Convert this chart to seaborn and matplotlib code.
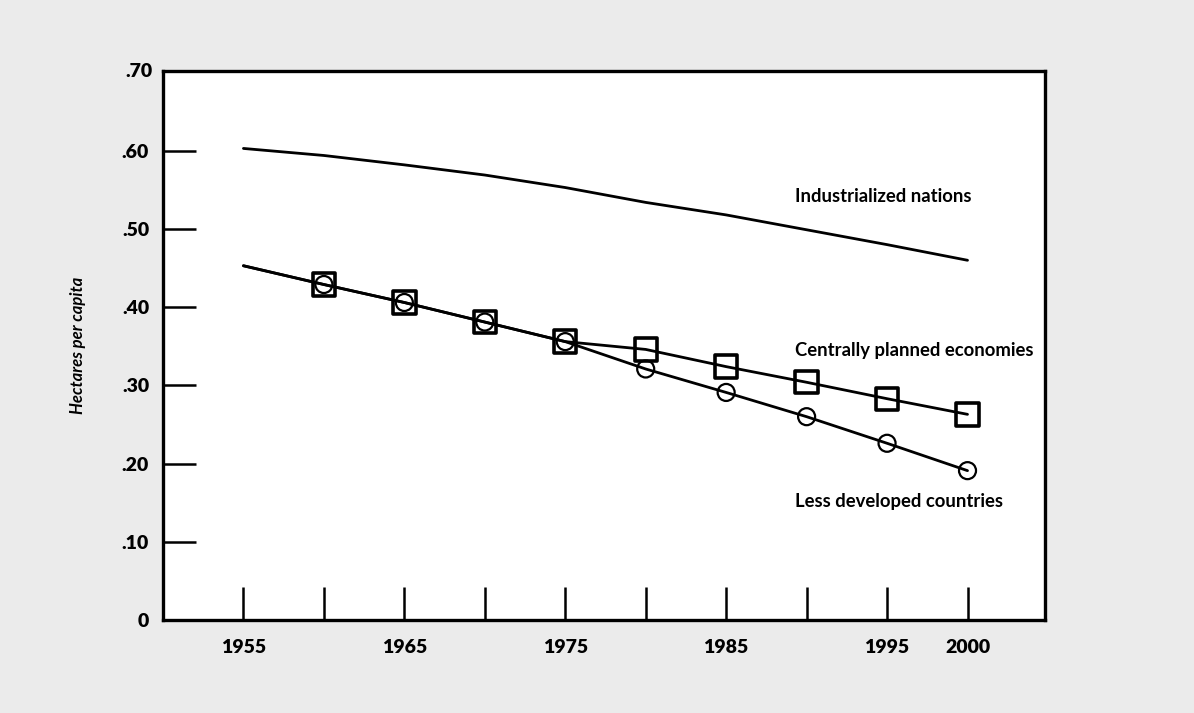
import seaborn as sns
import pandas as pd
import matplotlib.pyplot as plt

years = [1955, 1960, 1965, 1970, 1975, 1980, 1985, 1990, 1995, 2000]
industrialized = [0.603, 0.594, 0.582, 0.569, 0.553, 0.534, 0.518, 0.499, 0.480, 0.460]
centrally_planned = [0.453, 0.429, 0.406, 0.381, 0.356, 0.346, 0.324, 0.304, 0.283, 0.263]
less_developed = [0.453, 0.429, 0.406, 0.381, 0.356, 0.321, 0.291, 0.260, 0.226, 0.191]

tick_years = [1955, 1960, 1965, 1970, 1975, 1980, 1985, 1990, 1995, 2000]
label_years = ["1955", "", "1965", "", "1975", "", "1985", "", "1995", "2000"]
y_ticks = [0, 0.1, 0.2, 0.3, 0.4, 0.5, 0.6]
y_labels = ["0", ".10", ".20", ".30", ".40", ".50", ".60"]

df = pd.DataFrame({
    "year": years * 3,
    "value": industrialized + centrally_planned + less_developed,
    "group": ["Industrialized nations"] * 10 + ["Centrally planned economies"] * 10
             + ["Less developed countries"] * 10,
})

sns.set_style("white")
plt.rcParams['font.family'] = ['Lato', 'DejaVu Sans']
plt.rcParams['text.color'] = 'black'

fig = plt.figure(figsize=(11.94, 7.13), dpi=100)
fig.patch.set_facecolor("#ebebeb")
ax = fig.add_axes([0.1365, 0.1304, 0.7385, 0.77])
ax.set_facecolor("white")

sns.lineplot(data=df, x="year", y="value", units="group", estimator=None,
             color="black", linewidth=2.0, ax=ax)

mk = df[df["year"] > 1955]
sns.scatterplot(data=mk[mk["group"] == "Centrally planned economies"], x="year", y="value",
                marker="s", s=260, facecolor="none", edgecolor="black", linewidth=2.6, ax=ax)
sns.scatterplot(data=mk[mk["group"] == "Less developed countries"], x="year", y="value",
                marker="o", s=150, facecolor="none", edgecolor="black", linewidth=1.6, ax=ax)

ax.set_xlim(1950, 2004.8)
ax.set_ylim(0, 0.702)
ax.set_xticks(tick_years)
ax.set_xticklabels(label_years)
ax.set_yticks(y_ticks)
ax.set_yticklabels(y_labels)
ax.tick_params(axis="both", which="major", bottom=True, left=True, direction="in",
               length=24, width=1.8, color="black", labelcolor="black", labelsize=14)
ax.tick_params(axis="x", pad=14)
ax.tick_params(axis="y", pad=10)
for lab in ax.get_xticklabels() + ax.get_yticklabels():
    lab.set_fontweight("heavy")
for sp in ax.spines.values():
    sp.set_visible(True)
    sp.set_linewidth(2.4)
    sp.set_color("black")

# top label sits just above the frame, no tick mark
ax.text(-0.012, 0.702, ".70", transform=ax.get_yaxis_transform(), ha="right", va="center",
        fontsize=14, fontweight="heavy")

ax.set_xlabel("")
ax.set_ylabel("Hectares per capita", fontsize=12, fontweight="bold", style="italic",
              color="black", labelpad=26)

ax.text(1989.3, 0.535, "Industrialized nations", fontsize=13.3, fontweight="bold")
ax.text(1989.3, 0.337, "Centrally planned economies", fontsize=13.3, fontweight="bold")
ax.text(1989.3, 0.145, "Less developed countries", fontsize=13.3, fontweight="bold")

fig.savefig("out.png", dpi=100, facecolor=fig.get_facecolor())
